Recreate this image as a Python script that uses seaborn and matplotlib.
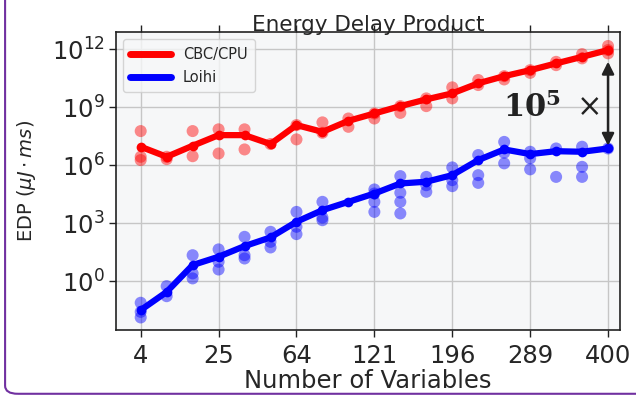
import numpy as np
import pandas as pd
import matplotlib
matplotlib.use("Agg")
import matplotlib.pyplot as plt
from matplotlib.patches import FancyBboxPatch
import seaborn as sns

# Anzahl der Variablen (Quadratzahlen 2^2 ... 20^2)
n_vars = [4, 9, 16, 25, 36, 49, 64, 81, 100, 121, 144, 169, 196, 225, 256, 289, 324, 361, 400]

# Mittelwerte (log10 EDP) der Linien
cpu_line_log = [6.95, 6.43, 7.0, 7.55, 7.55, 7.09, 8.07, 7.72, 8.29, 8.67, 9.05, 9.40,
                9.71, 10.23, 10.60, 10.91, 11.26, 11.60, 11.95]
loihi_line_log = [-1.5, -0.56, 0.83, 1.26, 1.81, 2.26, 3.07, 3.67, 4.10, 4.53, 5.05, 5.14,
                  5.48, 6.26, 6.81, 6.57, 6.72, 6.69, 6.86]

# Einzelmessungen (log10 EDP)
cpu_pts_n = [4, 4, 4, 9, 9, 16, 16, 25, 25, 36, 36, 49, 64, 64, 81, 81, 100, 100,
             121, 121, 144, 144, 169, 169, 196, 196, 225, 225, 256, 256, 289, 289,
             324, 324, 361, 361, 400, 400, 400]
cpu_pts_log = [7.76, 6.43, 6.26, 6.43, 6.31, 7.76, 6.46, 7.85, 6.60, 7.85, 6.81, 7.09,
               8.07, 7.33, 8.21, 7.67, 8.41, 7.98, 8.67, 8.41, 9.05, 8.70, 9.45, 9.05,
               10.02, 9.45, 10.40, 10.14, 10.60, 10.43, 10.91, 10.77, 11.34, 11.17,
               11.74, 11.52, 12.16, 11.95, 11.78]

loihi_pts_n = [4, 4, 4, 9, 9, 16, 16, 16, 25, 25, 25, 36, 36, 36, 49, 49, 49,
               64, 64, 64, 81, 81, 81, 121, 121, 121, 121, 144, 144, 144, 144,
               169, 169, 169, 196, 196, 196, 225, 225, 225, 256, 256, 256,
               289, 289, 289, 324, 324, 361, 361, 361, 400]
loihi_pts_log = [-1.12, -1.59, -1.88, -0.26, -0.78, 1.34, 0.40, 0.14, 1.64, 1.00, 0.60,
                 2.29, 1.34, 1.17, 2.55, 2.03, 1.74, 3.58, 2.81, 2.43, 4.10, 3.29, 3.15,
                 4.74, 4.53, 4.10, 3.58, 5.43, 4.57, 4.10, 3.50, 5.39, 4.96, 4.62,
                 5.88, 5.22, 4.91, 6.52, 5.48, 5.08, 7.20, 6.64, 6.09, 6.69, 6.35, 5.78,
                 6.86, 5.39, 6.95, 5.91, 5.39, 6.86]

x_ticks = [4, 25, 64, 121, 196, 289, 400]

# ------------------------------------------

df_line = pd.DataFrame({
    "n": n_vars * 2,
    "EDP": 10.0 ** np.array(cpu_line_log + loihi_line_log),
    "System": ["CBC/CPU"] * len(n_vars) + ["Loihi"] * len(n_vars),
})
df_pts = pd.DataFrame({
    "n": cpu_pts_n + loihi_pts_n,
    "EDP": 10.0 ** np.array(cpu_pts_log + loihi_pts_log),
    "System": ["CBC/CPU"] * len(cpu_pts_n) + ["Loihi"] * len(loihi_pts_n),
})
farben = {"CBC/CPU": "#ff0000", "Loihi": "#0000ff"}

sns.set_style("whitegrid", {"axes.facecolor": "#f6f7f8", "axes.edgecolor": "#222222",
                            "grid.color": "#c6c6c6"})
plt.rcParams["font.family"] = ["DejaVu Sans"]

fig = plt.figure(figsize=(6.36, 4.01), dpi=100)
ax = fig.add_axes([0.182, 0.177, 0.793, 0.743])

sns.scatterplot(data=df_pts, x="n", y="EDP", hue="System", palette=farben, s=75,
                alpha=0.45, edgecolor="none", legend=False, ax=ax, zorder=3)
sns.lineplot(data=df_line, x="n", y="EDP", hue="System", palette=farben, linewidth=4.5,
             marker="o", markersize=7, markeredgewidth=0, ax=ax, zorder=4)

ax.set_xscale("function", functions=(np.sqrt, np.square))
ax.set_yscale("log")
ax.set_xlim(1.08, 418.8)
ax.set_ylim(10 ** -2.53, 10 ** 12.88)
ax.set_xticks(x_ticks)
ax.set_xticklabels([str(t) for t in x_ticks])
ax.set_yticks([1e0, 1e3, 1e6, 1e9, 1e12])
ax.yaxis.set_minor_locator(matplotlib.ticker.NullLocator())
ax.tick_params(axis="both", labelsize=17.5, length=5, width=1, color="#222222",
               bottom=True, left=True, pad=3)
ax.tick_params(axis="x", top=True, pad=5)
for s in ax.spines.values():
    s.set_linewidth(1.2)
ax.grid(True, linewidth=1.0)

ax.set_title("Energy Delay Product", fontsize=15.5, pad=1)
ax.set_xlabel("Number of Variables", fontsize=17.5, labelpad=1)
ax.set_ylabel(r"EDP ($\mu J \cdot ms$)", fontsize=14, labelpad=10)

leg = ax.legend(loc="upper left", fontsize=10.5, frameon=True, handlelength=2.8,
                borderpad=0.5, labelspacing=0.55)
leg.get_frame().set_facecolor("#f6f7f8")
leg.get_frame().set_edgecolor("#cccccc")
for h in leg.get_lines():
    h.set_linewidth(5)
    h.set_marker("")

# Annotation 10^5 x
ax.annotate("", xy=(400, 10 ** 7.0), xytext=(400, 10 ** 11.35),
            arrowprops=dict(arrowstyle="<|-|>", color="#222222", lw=1.8,
                            mutation_scale=18, shrinkA=0, shrinkB=0), zorder=5)
ax.text(318, 10 ** 9.0, r"$\mathbf{10}^{\mathbf{5}}\ \times$", fontsize=22,
        math_fontfamily="dejavuserif", ha="center", va="center", color="#222222", zorder=5)

# Rahmen der Folie
rahmen = FancyBboxPatch((0.008, 0.018), 1.2, 1.2, boxstyle="round,pad=0,rounding_size=0.02",
                        transform=fig.transFigure, facecolor="none", edgecolor="#7030a0",
                        linewidth=1.5, clip_on=False)
fig.patches.append(rahmen)

fig.savefig("out.png", dpi=100)
